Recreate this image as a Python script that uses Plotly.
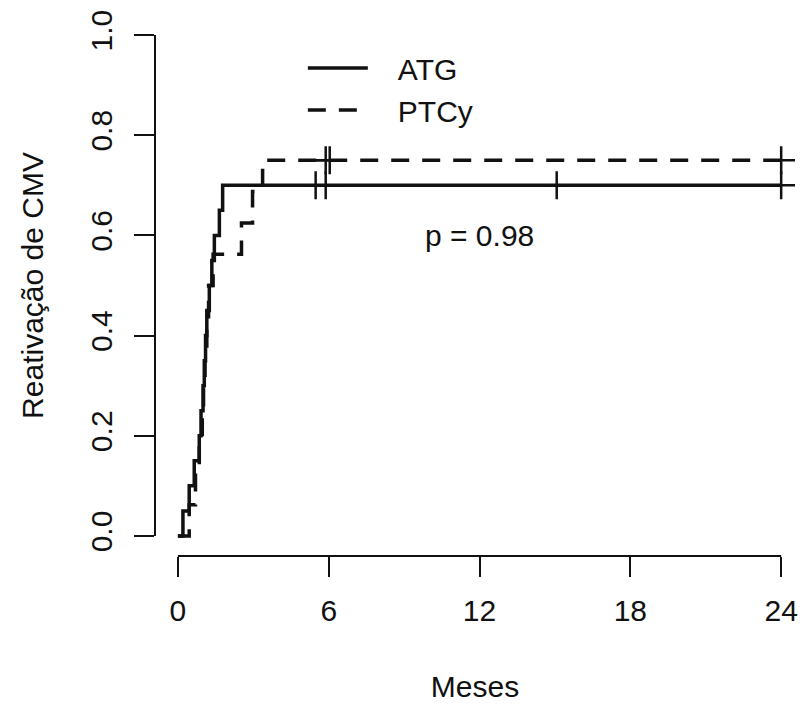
import numpy as np
import plotly.graph_objects as go

# ATG arm: event times (months) and cumulative incidence of CMV reactivation after each event
atg_times = [0.20, 0.45, 0.65, 0.85, 0.92, 1.00, 1.05, 1.10, 1.15, 1.25, 1.35, 1.45, 1.65, 1.78]
atg_cuminc = [0.05, 0.10, 0.15, 0.20, 0.25, 0.30, 0.35, 0.40, 0.45, 0.50, 0.55, 0.60, 0.65, 0.70]
atg_censored = [5.48, 5.88, 15.07, 24.0]

# PTCy arm
ptcy_times = [0.45, 0.70, 0.85, 0.97, 1.02, 1.08, 1.15, 1.22, 1.40, 2.53, 2.97, 3.37]
ptcy_cuminc = [0.0625, 0.125, 0.1875, 0.25, 0.3125, 0.375, 0.4375, 0.50, 0.5625, 0.625, 0.6875, 0.75]
ptcy_censored = [5.88, 6.04, 24.0]

x_ticks = [0, 6, 12, 18, 24]
y_ticks = [0.0, 0.2, 0.4, 0.6, 0.8, 1.0]
y_ticklabels = ["0.0", "0.2", "0.4", "0.6", "0.8", "1.0"]
p_value_text = "p = 0.98"

FONT = "Liberation Sans, Arial, Helvetica, sans-serif"
INK = "#111111"
END = 24.0
PAD = "\u00a0\u00a0\u00a0"  # gap between legend line sample and its label


def step_xy(times, cuminc, end):
    xs = [0.0] + list(times) + [end]
    ys = [0.0] + list(cuminc) + [cuminc[-1]]
    return xs, ys


def value_at(times, cuminc, t):
    idx = int(np.searchsorted(times, t, side="right"))
    return ([0.0] + list(cuminc))[idx]


fig = go.Figure()

arms = [
    ("ATG", atg_times, atg_cuminc, atg_censored, "solid"),
    ("PTCy", ptcy_times, ptcy_cuminc, ptcy_censored, "18px,13px"),
]

for name, times, cuminc, cens, dash in arms:
    xs, ys = step_xy(times, cuminc, END)
    fig.add_trace(go.Scatter(
        x=xs, y=ys, mode="lines", name=PAD + name,
        line=dict(color=INK, width=3.5, dash=dash, shape="hv"),
        showlegend=True,
    ))
    fig.add_trace(go.Scatter(
        x=cens, y=[value_at(times, cuminc, c) for c in cens],
        mode="markers", showlegend=False, hoverinfo="skip",
        marker=dict(symbol="cross-thin", size=20, line=dict(color=INK, width=2.5)),
    ))

# p-value label
fig.add_annotation(x=12, y=0.6, text=p_value_text, showarrow=False,
                   font=dict(family=FONT, size=30, color=INK))

# R-style axis lines spanning only the tick range
fig.add_shape(type="line", xref="x", yref="paper", x0=x_ticks[0], x1=x_ticks[-1], y0=0, y1=0,
              line=dict(color=INK, width=2))
fig.add_shape(type="line", xref="paper", yref="y", x0=0, x1=0, y0=y_ticks[0], y1=y_ticks[-1],
              line=dict(color=INK, width=2))

fig.update_layout(
    width=804, height=704,
    margin=dict(l=155, r=6, t=15, b=148),
    paper_bgcolor="white", plot_bgcolor="white",
    font=dict(family=FONT, size=30, color=INK),
    legend=dict(x=0.231, y=0.950, xanchor="left", yanchor="top",
                bgcolor="rgba(0,0,0,0)", itemwidth=60,
                font=dict(family=FONT, size=30, color=INK), tracegroupgap=0),
    xaxis=dict(
        range=[-0.911, 24.55], tickvals=x_ticks, ticks="outside", ticklen=20,
        tickwidth=2, tickcolor=INK, showline=False, showgrid=False, zeroline=False,
        tickfont=dict(family=FONT, size=30, color=INK), ticklabelstandoff=8,
        title=dict(text="Meses", font=dict(family=FONT, size=30, color=INK), standoff=49),
    ),
    yaxis=dict(
        range=[-0.04, 1.04], tickvals=y_ticks, ticktext=y_ticklabels, ticks="outside",
        ticklen=20, tickwidth=2, tickcolor=INK, tickangle=-90,
        showline=False, showgrid=False, zeroline=False,
        tickfont=dict(family=FONT, size=30, color=INK), ticklabelstandoff=10,
        title=dict(text="Reativação de CMV", font=dict(family=FONT, size=30, color=INK), standoff=32),
    ),
)

fig.write_html("out.html")
